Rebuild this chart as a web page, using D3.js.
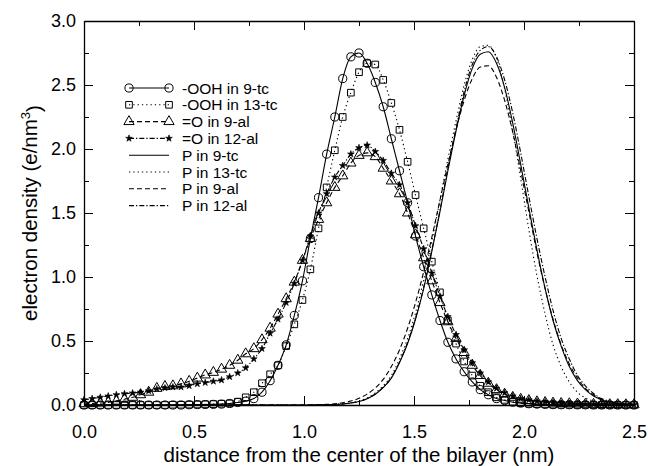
<!DOCTYPE html>
<html>
<head>
<meta charset="utf-8">
<script src="https://cdn.jsdelivr.net/npm/d3@7"></script>
<style>
  html, body { margin: 0; padding: 0; background: #fff; }
  svg { display: block; font-family: "Liberation Sans", Arial, Helvetica, sans-serif; }
</style>
</head>
<body>
<svg id="chart" width="648" height="466"></svg>
<script>
// ---------------- data ----------------
const xGrid = [0.000,0.037,0.074,0.110,0.147,0.184,0.221,0.257,0.294,0.331,0.368,0.404,0.441,0.478,0.515,0.551,0.588,0.625,0.662,0.699,0.735,0.772,0.809,0.846,0.882,0.919,0.956,0.993,1.029,1.066,1.103,1.140,1.176,1.213,1.250,1.287,1.324,1.360,1.397,1.434,1.471,1.507,1.544,1.581,1.618,1.654,1.691,1.728,1.765,1.801,1.838,1.875,1.912,1.949,1.985,2.022,2.059,2.096,2.132,2.169,2.206,2.243,2.279,2.316,2.353,2.390,2.426,2.463,2.500];

const oohIn9tc = [0,0,0,0,0,0,0,0,0,0,0,0,0,0.002,0.003,0.004,0.005,0.007,0.012,0.02,0.03,0.05,0.10,0.19,0.31,0.47,0.70,0.97,1.30,1.62,1.96,2.25,2.55,2.72,2.75,2.67,2.52,2.33,2.08,1.83,1.58,1.32,1.08,0.86,0.66,0.49,0.36,0.26,0.18,0.12,0.08,0.05,0.035,0.022,0.015,0.01,0.007,0.005,0.003,0.002,0.002,0.001,0.001,0,0,0,0,0,0];
const oohIn13tc = [0,0,0,0,0,0,0,0,0,0,0,0.002,0.002,0.003,0.004,0.005,0.007,0.01,0.012,0.026,0.06,0.10,0.17,0.24,0.31,0.46,0.63,0.82,1.06,1.38,1.70,1.99,2.25,2.44,2.60,2.67,2.66,2.54,2.36,2.15,1.90,1.64,1.38,1.12,0.88,0.66,0.48,0.34,0.23,0.15,0.10,0.06,0.04,0.025,0.015,0.01,0.007,0.005,0.003,0.002,0.002,0.001,0.001,0,0,0,0,0,0];
const oIn9al = [0.01,0.012,0.015,0.02,0.03,0.045,0.06,0.08,0.10,0.13,0.145,0.15,0.165,0.185,0.21,0.235,0.255,0.28,0.31,0.35,0.40,0.44,0.51,0.60,0.71,0.83,0.96,1.13,1.30,1.45,1.58,1.70,1.79,1.89,1.95,1.97,1.94,1.85,1.75,1.65,1.50,1.33,1.15,0.97,0.80,0.65,0.52,0.41,0.31,0.23,0.17,0.12,0.085,0.06,0.045,0.035,0.025,0.02,0.015,0.012,0.01,0.008,0.006,0.005,0.004,0.003,0.003,0.002,0.002];
const oIn12al = [0.04,0.05,0.06,0.07,0.08,0.088,0.093,0.10,0.11,0.125,0.133,0.14,0.14,0.15,0.165,0.175,0.185,0.195,0.22,0.25,0.29,0.36,0.44,0.56,0.67,0.80,0.95,1.13,1.32,1.50,1.65,1.78,1.87,1.96,2.01,2.03,1.98,1.91,1.81,1.72,1.58,1.40,1.22,1.03,0.85,0.69,0.55,0.43,0.33,0.25,0.18,0.13,0.095,0.07,0.05,0.04,0.03,0.025,0.02,0.015,0.012,0.01,0.008,0.006,0.005,0.004,0.003,0.003,0.002];
const pIn9tc = [0,0,0,0,0,0,0,0,0,0,0,0,0,0,0,0,0,0,0,0,0,0,0,0,0,0,0,0,0,0.001,0.002,0.004,0.008,0.015,0.027,0.049,0.084,0.135,0.21,0.33,0.48,0.67,0.91,1.20,1.51,1.83,2.14,2.42,2.63,2.74,2.76,2.67,2.48,2.20,1.88,1.54,1.21,0.91,0.66,0.46,0.30,0.19,0.12,0.07,0.04,0.02,0.01,0.005,0.002];
const pIn13tc = [0,0,0,0,0,0,0,0,0,0,0,0,0,0,0,0,0,0,0,0,0,0,0,0,0,0,0,0,0,0,0.002,0.005,0.009,0.017,0.03,0.055,0.095,0.15,0.23,0.36,0.52,0.72,0.98,1.28,1.60,1.92,2.22,2.50,2.70,2.80,2.81,2.71,2.47,2.14,1.77,1.37,1.01,0.71,0.47,0.30,0.18,0.10,0.055,0.03,0.015,0.007,0.003,0.001,0];
const pIn9al = [0,0,0,0,0,0,0,0,0,0,0,0,0,0,0,0,0,0,0,0,0,0,0,0,0,0,0,0,0.001,0.003,0.005,0.01,0.018,0.031,0.052,0.085,0.134,0.20,0.30,0.43,0.60,0.80,1.04,1.31,1.60,1.88,2.15,2.38,2.55,2.64,2.65,2.56,2.38,2.13,1.83,1.51,1.19,0.91,0.67,0.47,0.32,0.21,0.13,0.08,0.045,0.025,0.012,0.006,0.003];
const pIn12al = [0,0,0,0,0,0,0,0,0,0,0,0,0,0,0,0,0,0,0,0,0,0,0,0,0,0,0,0,0,0,0.002,0.004,0.008,0.016,0.028,0.05,0.086,0.14,0.215,0.335,0.49,0.68,0.92,1.21,1.52,1.85,2.16,2.45,2.66,2.77,2.80,2.72,2.54,2.28,1.97,1.63,1.30,1.00,0.74,0.52,0.36,0.23,0.15,0.09,0.05,0.03,0.015,0.007,0.003];

const seriesNames = ["-OOH in 9-tc","-OOH in 13-tc","=O in 9-al","=O in 12-al","P in 9-tc","P in 13-tc","P in 9-al","P in 12-al"];
const xTicks = [0, 0.5, 1.0, 1.5, 2.0, 2.5];
const yTicks = [0, 0.5, 1.0, 1.5, 2.0, 2.5, 3.0];
const xMinor = [0.25, 0.75, 1.25, 1.75, 2.25];
const yMinor = [0.25, 0.75, 1.25, 1.75, 2.25, 2.75];

// ---------------- styles ----------------
const series = [
  {name: seriesNames[0], values: oohIn9tc,  dash: null,      marker: "circle"},
  {name: seriesNames[1], values: oohIn13tc, dash: "1.3,3",   marker: "square"},
  {name: seriesNames[2], values: oIn9al,    dash: "5,3",     marker: "triangle"},
  {name: seriesNames[3], values: oIn12al,   dash: "5,2,1.3,2", marker: "star"},
  {name: seriesNames[4], values: pIn9tc,    dash: null,      marker: null},
  {name: seriesNames[5], values: pIn13tc,   dash: "1.3,3",   marker: null},
  {name: seriesNames[6], values: pIn9al,    dash: "5,3",     marker: null},
  {name: seriesNames[7], values: pIn12al,   dash: "5,2,1.3,2", marker: null}
];

const svg = d3.select("#chart");
const margin = {left: 84, top: 21, right: 14, bottom: 61};
const W = 648, H = 466;
const iw = W - margin.left - margin.right; // 550
const ih = H - margin.top - margin.bottom; // 384

const x = d3.scaleLinear().domain([0, 2.5]).range([0, iw]);
const y = d3.scaleLinear().domain([0, 3.0]).range([ih, 0]);

const g = svg.append("g").attr("transform", `translate(${margin.left},${margin.top})`);

// axes
const fmt = d3.format(".1f");
function styleAxis(sel) {
  sel.selectAll("path.domain").attr("stroke", "#000").attr("stroke-width", 1.3);
  sel.selectAll(".tick line").attr("stroke", "#000").attr("stroke-width", 1);
  sel.selectAll("text").attr("fill", "#000").style("font-size", "18px")
     .style("font-family", '"Liberation Sans", Arial, Helvetica, sans-serif');
}
const gx = g.append("g").attr("transform", `translate(0,${ih})`)
  .call(d3.axisBottom(x).tickValues(xTicks).tickFormat(fmt).tickSizeInner(-9).tickSizeOuter(0).tickPadding(20));
styleAxis(gx);
g.append("g").attr("transform", `translate(0,${ih})`)
  .call(d3.axisBottom(x).tickValues(xMinor).tickFormat("").tickSizeInner(-5).tickSizeOuter(0))
  .call(s => { s.select("path.domain").remove(); s.selectAll("line").attr("stroke","#000"); });

const gxt = g.append("g")
  .call(d3.axisTop(x).tickValues(xTicks).tickFormat("").tickSizeInner(-9).tickSizeOuter(0));
styleAxis(gxt);
g.append("g")
  .call(d3.axisTop(x).tickValues(xMinor).tickFormat("").tickSizeInner(-5).tickSizeOuter(0))
  .call(s => { s.select("path.domain").remove(); s.selectAll("line").attr("stroke","#000"); });

const gy = g.append("g")
  .call(d3.axisLeft(y).tickValues(yTicks).tickFormat(fmt).tickSizeInner(-9).tickSizeOuter(0).tickPadding(8));
styleAxis(gy);
g.append("g")
  .call(d3.axisLeft(y).tickValues(yMinor).tickFormat("").tickSizeInner(-5).tickSizeOuter(0))
  .call(s => { s.select("path.domain").remove(); s.selectAll("line").attr("stroke","#000"); });

const gyr = g.append("g").attr("transform", `translate(${iw},0)`)
  .call(d3.axisRight(y).tickValues(yTicks).tickFormat("").tickSizeInner(-9).tickSizeOuter(0));
styleAxis(gyr);
g.append("g").attr("transform", `translate(${iw},0)`)
  .call(d3.axisRight(y).tickValues(yMinor).tickFormat("").tickSizeInner(-5).tickSizeOuter(0))
  .call(s => { s.select("path.domain").remove(); s.selectAll("line").attr("stroke","#000"); });

// axis titles
svg.append("text")
  .attr("x", margin.left + iw / 2).attr("y", 462)
  .attr("text-anchor", "middle")
  .style("font-size", "20.5px").attr("fill", "#000")
  .text("distance from the center of the bilayer (nm)");

const yt = svg.append("text")
  .attr("transform", `translate(37,${margin.top + ih / 2}) rotate(-90)`)
  .attr("text-anchor", "middle")
  .style("font-size", "20.5px").attr("fill", "#000");
yt.append("tspan").text("electron density (e/nm");
yt.append("tspan").attr("dy", "-0.55em").style("font-size", "13px").text("3");
yt.append("tspan").attr("dy", "0.55em").text(")");

// markers
const symbolFor = {
  circle:   d3.symbol().type(d3.symbolCircle).size(52),
  square:   d3.symbol().type(d3.symbolSquare).size(44),
  triangle: d3.symbol().type(d3.symbolTriangle).size(46),
  star:     d3.symbol().type(d3.symbolStar).size(14)
};
function drawMarker(sel, marker) {
  const p = sel.append("path").attr("d", symbolFor[marker]());
  if (marker === "star") p.attr("fill", "#000").attr("stroke", "#000").attr("stroke-width", 0.6);
  else p.attr("fill", "none").attr("stroke", "#000").attr("stroke-width", 1);
  return p;
}

// lines
const line = d3.line().x((d, i) => x(xGrid[i])).y(d => y(d)).curve(d3.curveMonotoneX);
const plot = g.append("g");
series.slice().reverse().forEach(s => {
  plot.append("path")
    .datum(s.values)
    .attr("d", line)
    .attr("fill", "none")
    .attr("stroke", "#000")
    .attr("stroke-width", 1.1)
    .attr("stroke-dasharray", s.dash);
});
series.forEach(s => {
  if (!s.marker) return;
  const mg = plot.append("g");
  s.values.forEach((v, i) => {
    const m = mg.append("g").attr("transform", `translate(${x(xGrid[i])},${y(v)})`);
    drawMarker(m, s.marker);
  });
});

// legend
const leg = svg.append("g");
const legX0 = 129, legX1 = 169, legText = 182, legY0 = 88, legDy = 16.8;
series.forEach((s, i) => {
  const yy = legY0 + i * legDy;
  leg.append("line").attr("x1", legX0).attr("x2", legX1).attr("y1", yy).attr("y2", yy)
    .attr("stroke", "#000").attr("stroke-width", 1.1).attr("stroke-dasharray", s.dash);
  if (s.marker) {
    [legX0, legX1].forEach(xx => {
      const m = leg.append("g").attr("transform", `translate(${xx},${yy})`);
      drawMarker(m, s.marker);
    });
  }
  leg.append("text").attr("x", legText).attr("y", yy).attr("dy", "0.36em")
    .style("font-size", "15.5px").attr("fill", "#000").text(s.name);
});
</script>
</body>
</html>
